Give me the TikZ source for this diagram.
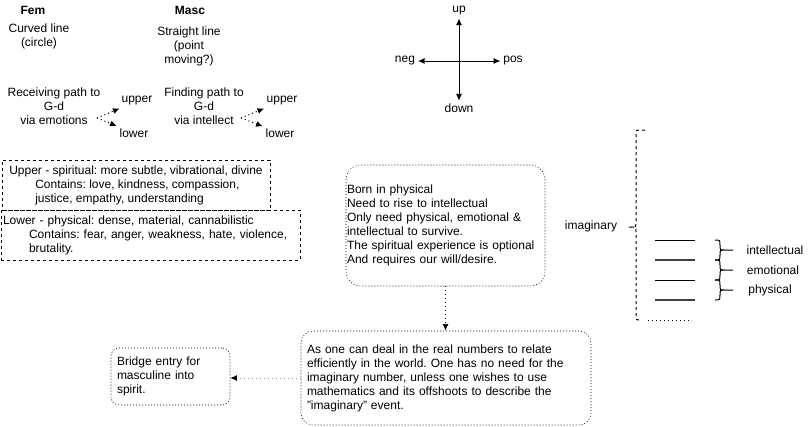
\documentclass[tikz,border=0pt]{standalone}
\usepackage{fontspec}
\setmainfont{Liberation Sans}
\usetikzlibrary{arrows.meta}
\frenchspacing

\begin{document}
\begin{tikzpicture}[x=0.75pt, y=-0.75pt, font=\fontsize{9}{10.5}\selectfont]
 \tikzstyle{txt}=[inner sep=2pt, align=center]
 \tikzstyle{dashbox}=[draw, dash pattern=on 2.25pt off 2.25pt, align=left, minimum height=37.5pt, inner ysep=0pt]
 \tikzstyle{dotbox}=[draw, dash pattern=on 0.75pt off 1.5pt, align=left, inner ysep=0pt]
 \tikzstyle{dotarr}=[-{Latex[length=5pt, width=4.5pt, color=black]}, dash pattern=on 0.75pt off 2.25pt, line width=0.75pt]
 \tikzstyle{axis}=[{Latex[length=5pt, width=4.5pt]}-{Latex[length=5pt, width=4.5pt]}, line width=0.75pt]
 \tikzstyle{level}=[line width=0.75pt]
 \tikzstyle{thicklevel}=[line width=1.5pt, black!75]
 \useasboundingbox (0,0) rectangle (811,426);
 %
 \node[txt] (fem) at (33, 10) {\textbf{Fem}};
 \node[txt] (curved) at (39, 36) {Curved line\\(circle)};
 \node[txt] (masc) at (190, 10) {\textbf{Masc}};
 \node[txt] (straight) at (189, 46) {Straight line\\(point\\moving?)};
 %
 \node[txt] (recv) at (54, 106) {Receiving path to\\G-d\\via emotions};
 \node[txt] (fupper) at (137, 101) {upper};
 \node[txt] (flower) at (134, 133) {lower};
 \node[txt] (find) at (204, 106) {Finding path to\\G-d\\via intellect};
 \node[txt] (mupper) at (282, 101) {upper};
 \node[txt] (mlower) at (280, 133) {lower};
 \coordinate (femfork) at (97, 118);
 \coordinate (mascfork) at (241, 118);
 %
 \node[txt] (up) at (459, 11) {up};
 \node[txt] (down) at (459, 108) {down};
 \node[txt] (neg) at (405, 61) {neg};
 \node[txt] (pos) at (513, 61) {pos};
 %
 \node[dashbox, minimum width=201pt, inner xsep=0pt] (upperbox) at (136, 185)
  {Upper - spiritual: more subtle, vibrational, divine\\\hspace*{19.5pt}Contains: love, kindness, compassion,\\\hspace*{19.5pt}justice, empathy, understanding};
 \node[dashbox, text width=221.25pt, inner xsep=1.5pt] (lowerbox) at (150.5, 235)
  {Lower - physical: dense, material, cannabilistic\\\hspace*{19.5pt}Contains: fear, anger, weakness, hate, violence,\\\hspace*{19.5pt}brutality.};
 %
 \node[dotbox, rounded corners=11pt, text width=147.75pt, inner xsep=0.75pt, minimum height=90.75pt] (born) at (445.5, 225.5)
  {Born in physical\\Need to rise to intellectual\\Only need physical, emotional \&\\intellectual to survive.\\The spiritual experience is optional\\And requires our will/desire.};
 \node[dotbox, rounded corners=9pt, text width=208.5pt, inner xsep=4.5pt, minimum height=70.5pt] (real) at (446, 378)
  {As one can deal in the real numbers to relate\\efficiently in the world. One has no need for the\\imaginary number, unless one wishes to use\\mathematics and its offshoots to describe the\\"imaginary" event.};
 \node[dotbox, rounded corners=6pt, text width=80.25pt, inner xsep=4.5pt, minimum height=42.75pt] (bridge) at (170.5, 376.5)
  {Bridge entry for\\masculine into\\spirit.};
 %
 \node[txt] (imag) at (591, 226) {imaginary};
 \node[txt] (intel) at (775, 250) {intellectual};
 \node[txt] (emo) at (773, 270) {emotional};
 \node[txt] (phys) at (770, 290) {physical};
 %%
 \draw[dotarr] (femfork)--(fupper);
 \draw[dotarr] (femfork)--(flower);
 \draw[dotarr] (mascfork)--(mupper);
 \draw[dotarr] (mascfork)--(mlower);
 \draw[axis] (up)--(down);
 \draw[axis] (neg)--(pos);
 \draw[dotarr] (born.south)--(born.south |- real.north);
 \draw[dotarr, black!40] (real.west)--(real.west -| bridge.east);
 %
 \draw[dash pattern=on 2.25pt off 2.25pt, line width=0.75pt] (645,130) -- (641,130) .. controls (636,130) .. (636,135) -- (636,222)
  .. controls (636,227) .. (631,227) -- (628,227) (631,227) .. controls (636,227) .. (636,232) -- (636,315) .. controls (636,320) .. (641,320);
 \draw[dash pattern=on 0.75pt off 2.25pt, line width=0.75pt] (648,320) -- (692,320);
 %
 \draw[level] (655,240) -- (695,240);
 \draw[thicklevel] (655,260) -- (695,260);
 \draw[level] (655,280) -- (695,280);
 \draw[thicklevel] (655,300) -- (695,300);
 %
 \draw[line width=0.75pt] (715,240) .. controls (720,240) .. (720,245) .. controls (720,250) .. (725,250) .. controls (720,250) .. (720,255) .. controls (720,260) .. (715,260) (725,250) -- (733,250);
 \draw[line width=0.75pt] (715,260) .. controls (720,260) .. (720,265) .. controls (720,270) .. (725,270) .. controls (720,270) .. (720,275) .. controls (720,280) .. (715,280) (725,270) -- (733,270);
 \draw[line width=0.75pt] (715,280) .. controls (720,280) .. (720,285) .. controls (720,290) .. (725,290) .. controls (720,290) .. (720,295) .. controls (720,300) .. (715,300) (725,290) -- (733,290);
\end{tikzpicture}
\end{document}
